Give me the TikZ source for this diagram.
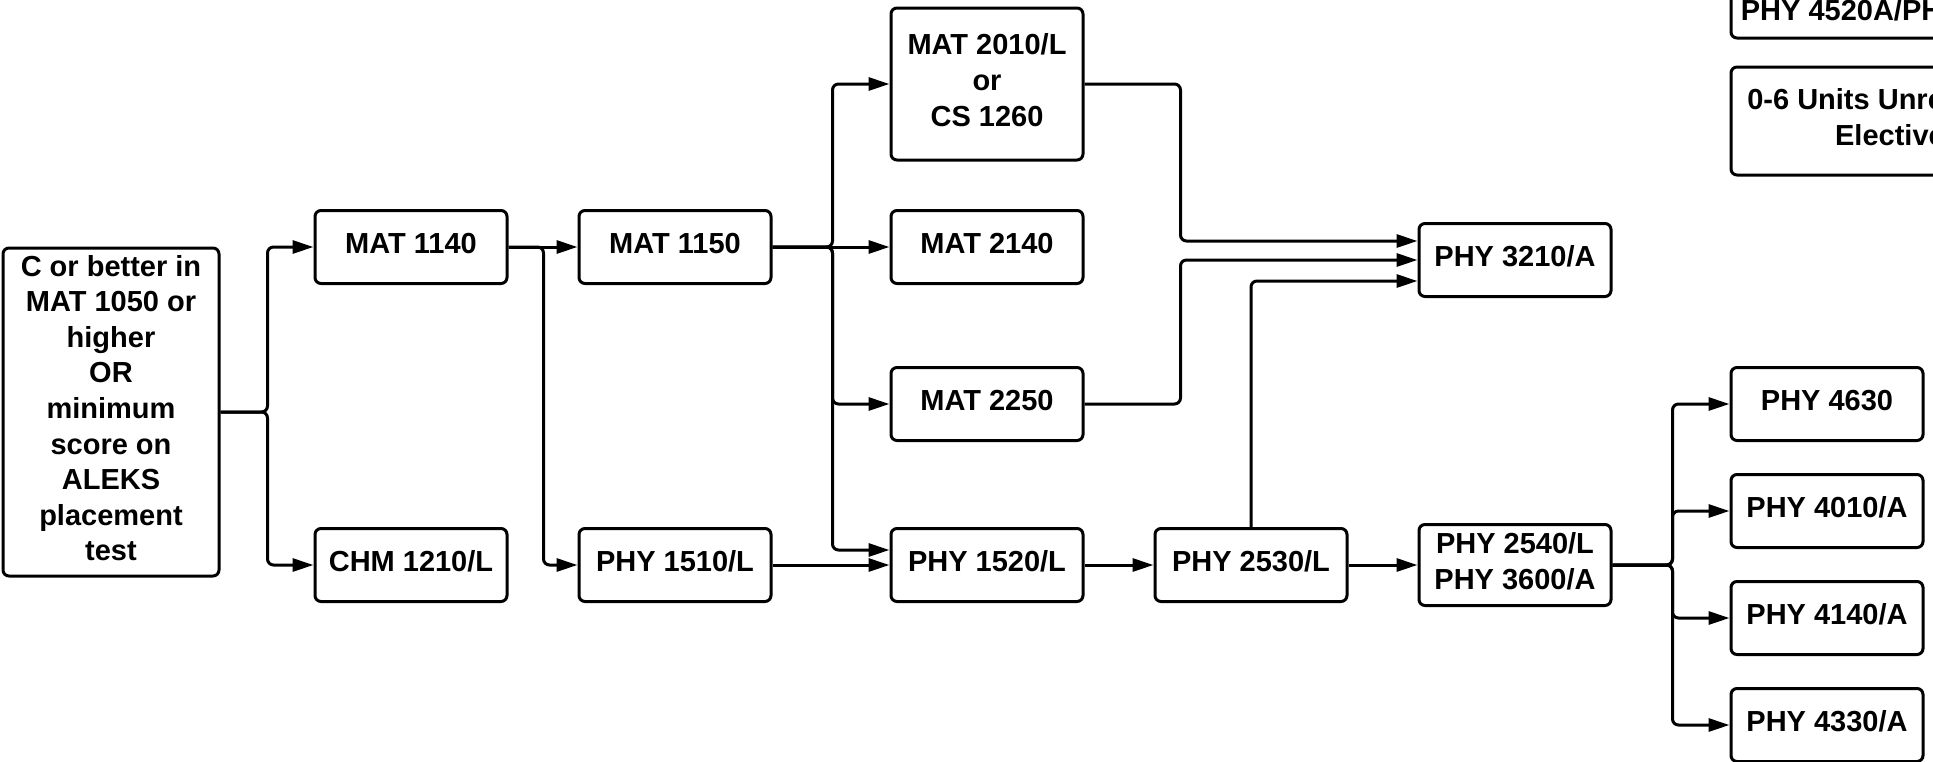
\documentclass[tikz,border=0pt]{standalone}
\usepackage{fontspec}
\setmainfont{Liberation Sans}
\usetikzlibrary{arrows.meta}
\tikzset{
  course/.style={draw, line width=1.5pt, rounded corners=3pt, minimum width=96pt,
    minimum height=36.5pt, inner sep=2pt, align=center, text depth=4pt,
    font=\bfseries\fontsize{14.5}{17.8}\selectfont},
  link/.style={line width=1.5pt, rounded corners=3pt,
    -{Triangle[length=10.5pt,width=6.5pt]}},
}
\begin{document}
\begin{tikzpicture}[x=0.5pt,y=-0.5pt]
  \useasboundingbox (0,0) rectangle (1933,761);
  \clip (0,0) rectangle (1933,761);
  % first column
  \node[course, minimum width=108pt, minimum height=164pt] (start) at (111,412)
    {C or better in\\MAT 1050 or\\higher\\OR\\minimum\\score on\\ALEKS\\placement\\test};
  \node[course] (m1140) at (411,247) {MAT 1140};
  \node[course] (c1210) at (411,565) {CHM 1210/L};
  \node[course] (m1150) at (675,247) {MAT 1150};
  \node[course] (p1510) at (675,565) {PHY 1510/L};
  \node[course, minimum height=76pt] (m2010) at (987,84) {MAT 2010/L\\or\\CS 1260};
  \node[course] (m2140) at (987,247) {MAT 2140};
  \node[course] (m2250) at (987,404) {MAT 2250};
  \node[course] (p1520) at (987,565) {PHY 1520/L};
  \node[course] (p2530) at (1251,565) {PHY 2530/L};
  \node[course] (p3210) at (1515,260) {PHY 3210/A};
  \node[course, minimum height=40.5pt] (p2540) at (1515,565) {PHY 2540/L\\PHY 3600/A};
  % upper division
  \node[course] (p4630) at (1827,404) {PHY 4630};
  \node[course] (p4010) at (1827,511) {PHY 4010/A};
  \node[course] (p4140) at (1827,618) {PHY 4140/A};
  \node[course] (p4330) at (1827,725) {PHY 4330/A};
  \node[course, minimum width=167pt, minimum height=24pt] (p4520) at (1898,14) {PHY 4520A/PHY 4521A};
  \node[course, minimum width=167pt, minimum height=54pt] (elect) at (1898,121) {0-6 Units Unrestricted\\Electives};
  % connectors
  \draw[link] (start.east) -- ++(47,0) |- (m1140);
  \draw[link] (start.east) -- ++(47,0) |- (c1210);
  \draw[link] (m1140) -- (m1150);
  \draw[link] (m1140.east) -- ++(35,0) |- (p1510);
  \draw[link] (m1150.east) -- ++(60,0) |- (m2010);
  \draw[link] (m1150) -- (m2140);
  \draw[link] (m1150.east) -- ++(60,0) |- (m2250);
  \draw[link] (m1150.east) -- ++(60,0) |- ([yshift=7.5pt]p1520.west);
  \draw[link] (p1510) -- (p1520);
  \draw[link] (p1520) -- (p2530);
  \draw[link] (p2530) -- (p2540);
  \draw[link] (m2010.east) -- ++(96,0) |- ([yshift=9.5pt]p3210.west);
  \draw[link] (m2250.east) -- ++(96,0) |- (p3210);
  \draw[link] (p2530.north) |- ([yshift=-10.5pt]p3210.west);
  \foreach \n in {p4630,p4010,p4140,p4330}
    \draw[link] (p2540.east) -- ++(60,0) |- (\n);
\end{tikzpicture}
\end{document}
